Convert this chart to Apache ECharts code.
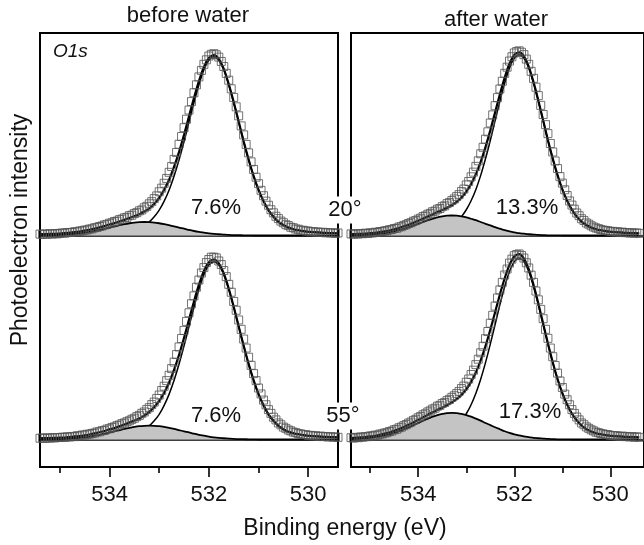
<!DOCTYPE html>
<html><head><meta charset="utf-8">
<script src="https://cdn.jsdelivr.net/npm/echarts@6/dist/echarts.min.js"></script>
<style>html,body{margin:0;padding:0;background:#fff;overflow:hidden}#c{width:644px;height:545px}</style>
</head><body><div id="c"></div>
<script>
// Binding energies (eV) of the measured points (0.05 eV step) and of the fit curves (0.1 eV step)
const energyData = [
535.4,535.35,535.3,535.25,535.2,535.15,535.1,535.05,535,534.95,
534.9,534.85,534.8,534.75,534.7,534.65,534.6,534.55,534.5,534.45,
534.4,534.35,534.3,534.25,534.2,534.15,534.1,534.05,534,533.95,
533.9,533.85,533.8,533.75,533.7,533.65,533.6,533.55,533.5,533.45,
533.4,533.35,533.3,533.25,533.2,533.15,533.1,533.05,533,532.95,
532.9,532.85,532.8,532.75,532.7,532.65,532.6,532.55,532.5,532.45,
532.4,532.35,532.3,532.25,532.2,532.15,532.1,532.05,532,531.95,
531.9,531.85,531.8,531.75,531.7,531.65,531.6,531.55,531.5,531.45,
531.4,531.35,531.3,531.25,531.2,531.15,531.1,531.05,531,530.95,
530.9,530.85,530.8,530.75,530.7,530.65,530.6,530.55,530.5,530.45,
530.4,530.35,530.3,530.25,530.2,530.15,530.1,530.05,530,529.95,
529.9,529.85,529.8,529.75,529.7,529.65,529.6,529.55,529.5,529.45,
529.4];
const energyFit = [
535.4,535.3,535.2,535.1,535,534.9,534.8,534.7,534.6,534.5,
534.4,534.3,534.2,534.1,534,533.9,533.8,533.7,533.6,533.5,
533.4,533.3,533.2,533.1,533,532.9,532.8,532.7,532.6,532.5,
532.4,532.3,532.2,532.1,532,531.9,531.8,531.7,531.6,531.5,
531.4,531.3,531.2,531.1,531,530.9,530.8,530.7,530.6,530.5,
530.4,530.3,530.2,530.1,530,529.9,529.8,529.7,529.6,529.5,
529.4];

// before water, 20 deg
const beforeData20 = [8,6,9,7,10,8,11,9,12,14,
13,16,17,17,21,21,25,26,30,31,
36,37,43,45,50,53,59,62,68,71,
78,80,88,91,98,101,110,113,122,127,
137,142,154,162,176,188,205,220,243,263,
290,317,351,383,423,461,507,550,599,646,
697,744,793,837,881,917,951,976,997,1006,
1010,1004,991,967,939,901,863,815,767,715,
665,609,559,506,459,409,367,324,288,251,
221,191,168,143,126,107,94,80,71,60,
55,46,43,36,35,29,29,25,25,21,
22,19,19,17,18,15,16,14,15,12,14];
const beforeMain20 = [6,7,7,7,8,8,9,10,10,11,12,13,14,15,17,
18,21,24,29,35,44,58,76,104,141,191,253,331,421,522,631,739,838,921,974,993,
974,921,838,739,631,522,421,331,253,191,141,104,76,58,44,35,29,24,21,18,17,15,14,13,12];
const beforeHump20 = [1,1,2,2,3,5,7,9,12,16,
20,25,31,38,44,51,57,63,68,72,
74,75,74,72,68,63,57,51,44,38,
31,25,20,16,12,9,7,5,3,2,
2,1,1,0,0,0,0,0,0,0,
0,0,0,0,0,0,0,0,0,0,0];
const beforeFit20 = [7,8,9,9,11,13,16,19,22,27,
32,38,45,53,61,69,78,87,97,107,
118,133,150,176,209,254,310,382,465,560,
662,764,858,937,986,1002,981,926,841,741,
633,523,422,331,253,191,141,104,76,58,
44,35,29,24,21,18,17,15,14,13,12];

// after water, 20 deg
const afterData20 = [9,7,10,8,11,10,13,11,15,14,
18,17,22,22,26,27,32,33,39,40,
47,49,56,60,67,71,79,83,91,96,
105,109,118,123,132,136,146,150,160,165,
177,183,194,203,216,227,244,258,281,300,
326,352,384,415,454,490,535,576,625,670,
721,766,814,857,901,935,969,993,1014,1022,
1026,1018,1005,980,951,912,873,824,777,723,
672,616,566,511,464,414,372,327,291,254,
222,192,169,146,125,110,93,83,70,63,
54,47,42,38,33,30,28,26,23,23,
20,21,17,19,16,16,14,15,13,14,12];
const afterMain20 = [6,7,7,7,8,8,9,10,10,11,12,13,14,15,17,
18,21,24,29,35,44,58,77,105,143,193,256,334,426,528,638,747,847,931,985,1004,
985,931,847,747,638,528,426,334,256,193,143,105,77,58,44,35,29,24,21,18,17,15,14,13,12];
const afterHump20 = [1,1,2,3,5,7,10,13,18,23,
30,38,46,56,65,75,85,93,101,106,
110,111,110,106,101,93,85,75,65,56,
46,38,30,23,18,13,10,7,5,3,
2,1,1,1,0,0,0,0,0,0,
0,0,0,0,0,0,0,0,0,0,0];
const afterFit20 = [7,8,9,10,13,15,19,23,28,34,
42,51,60,71,82,93,106,117,130,141,
154,169,187,211,244,286,341,409,491,584,
684,785,877,954,1003,1017,995,938,852,750,
640,529,427,335,256,193,143,105,77,58,
44,35,29,24,21,18,17,15,14,13,12];

// before water, 55 deg
const beforeData55 = [7,9,6,9,8,10,9,11,11,13,
12,15,14,17,16,21,20,25,25,29,
30,34,36,42,43,49,51,58,60,67,
70,77,81,88,92,99,104,112,118,127,
134,145,153,167,177,194,208,228,247,272,
296,327,357,394,430,472,514,561,606,656,
704,754,798,846,886,925,955,983,1000,1013,
1013,1009,992,972,939,905,862,818,767,718,
664,612,558,508,457,412,366,327,286,253,
219,193,166,145,124,109,92,82,69,62,
53,48,41,38,33,31,27,27,23,23,
20,21,17,19,16,17,14,16,13,14,12];
const beforeMain55 = [6,7,7,7,8,8,9,10,10,11,12,13,14,15,17,
18,21,24,29,35,43,57,76,104,140,190,252,329,419,520,627,735,834,916,969,988,
969,916,834,735,627,520,419,329,252,190,140,104,76,57,43,35,29,24,21,18,17,15,14,13,12];
const beforeHump55 = [0,1,1,2,2,3,5,7,9,12,
16,21,26,32,39,45,52,59,65,70,
74,76,77,76,74,70,65,59,52,45,
39,32,26,21,16,12,9,7,5,3,
2,2,1,1,0,0,0,0,0,0,
0,0,0,0,0,0,0,0,0,0,0];
const beforeFit55 = [6,8,8,9,10,11,14,17,19,23,
28,34,40,47,56,63,73,83,94,105,
117,133,153,180,214,260,317,388,471,565,
666,767,860,937,985,1000,978,923,839,738,
629,522,420,330,252,190,140,104,76,57,
43,35,29,24,21,18,17,15,14,13,12];

// after water, 55 deg
const afterData55 = [10,8,12,10,14,13,16,16,20,20,
24,24,30,31,36,38,44,47,54,57,
65,69,77,83,91,97,106,112,121,128,
137,143,153,159,169,174,185,190,200,206,
216,223,234,243,255,267,283,297,318,336,
361,385,416,446,482,518,560,600,646,690,
741,786,831,873,914,947,980,1002,1021,1028,
1031,1022,1008,982,953,913,873,825,776,723,
671,612,562,508,460,411,369,325,289,252,
221,193,166,145,125,109,92,82,70,62,
54,48,41,38,33,31,27,27,23,22,
21,20,17,19,16,17,14,16,13,15,12];
const afterMain55 = [6,7,7,7,8,8,9,10,10,11,12,13,14,15,17,
18,21,24,29,35,44,58,78,106,143,193,257,335,427,530,639,749,850,933,988,1007,
988,933,850,749,639,530,427,335,257,193,143,106,78,58,44,35,29,24,21,18,17,15,14,13,12];
const afterHump55 = [2,3,5,7,9,13,17,23,29,37,
46,57,68,80,92,105,116,127,136,142,
147,148,147,142,136,127,116,105,92,80,
68,57,46,37,29,23,17,13,9,7,
5,3,2,1,1,1,0,0,0,0,
0,0,0,0,0,0,0,0,0,0,0];
const afterFit55 = [8,10,12,14,17,21,26,33,39,48,
58,70,82,95,109,123,137,151,165,177,
191,206,225,248,279,320,373,440,519,610,
707,806,896,970,1017,1030,1005,946,859,756,
644,533,429,336,258,194,143,106,78,58,
44,35,29,24,21,18,17,15,14,13,12];

const majorTicks = [530, 532, 534];
const minorTicks = [531, 533, 535];
const columnTitles = ['before water', 'after water'];
const angleLabels = ['20°', '55°'];
const percentLabels = ['7.6%', '13.3%', '7.6%', '17.3%'];
const coreLevel = 'O1s';
const xName = 'Binding energy (eV)';
const yName = 'Photoelectron intensity';

const FONT = '"Liberation Sans", Arial, Helvetica, sans-serif';
const INK = '#111';
const pair = (xs, ys) => ys.map((v, i) => [xs[i], v]);

const panels = [
  {data: beforeData20, main: beforeMain20, hump: beforeHump20, fit: beforeFit20},
  {data: afterData20,  main: afterMain20,  hump: afterHump20,  fit: afterFit20},
  {data: beforeData55, main: beforeMain55, hump: beforeHump55, fit: beforeFit55},
  {data: afterData55,  main: afterMain55,  hump: afterHump55,  fit: afterFit55}
];
// x ranges: left column 535.4 -> 529.4, right column runs past the picture edge
const xRange = [[529.4, 535.4], [529.3, 535.4]];

const grid = [
  {left: 40,  top: 33, width: 298, height: 434, show: true, borderColor: '#000', borderWidth: 2, backgroundColor: 'rgba(0,0,0,0)'},
  {left: 351, top: 33, width: 300, height: 434, show: true, borderColor: '#000', borderWidth: 2, backgroundColor: 'rgba(0,0,0,0)'},
  {left: 40,  top: 46.5,  width: 298, height: 198},
  {left: 351, top: 46.5,  width: 300, height: 198},
  {left: 40,  top: 250.5, width: 298, height: 198},
  {left: 351, top: 250.5, width: 300, height: 198}
];

const xAxis = [];
const yAxis = [];
[0, 1].forEach(g => {
  const r = xRange[g];
  xAxis.push({gridIndex: g, type: 'value', position: 'bottom', min: r[0], max: r[1], inverse: true,
    axisLine: {show: false}, splitLine: {show: false},
    axisTick: {show: true, customValues: majorTicks, length: 10, lineStyle: {color: '#000', width: 1.6}},
    axisLabel: {show: true, customValues: majorTicks, fontSize: 22, fontFamily: FONT, color: INK, margin: 17}});
  xAxis.push({gridIndex: g, type: 'value', position: 'bottom', min: r[0], max: r[1], inverse: true,
    axisLine: {show: false}, splitLine: {show: false},
    axisTick: {show: true, customValues: minorTicks, length: 6, lineStyle: {color: '#000', width: 1.6}},
    axisLabel: {show: false}});
  yAxis.push({gridIndex: g, type: 'value', show: false});
});
[2, 3, 4, 5].forEach((g, k) => {
  const r = xRange[k % 2];
  xAxis.push({gridIndex: g, type: 'value', min: r[0], max: r[1], inverse: true,
    axisLine: {show: true, onZero: true, lineStyle: {color: '#000', width: 1.6}},
    axisTick: {show: false}, axisLabel: {show: false}, splitLine: {show: false}});
  yAxis.push({gridIndex: g, type: 'value', min: -50, max: 1050, show: false});
});

const series = [];
panels.forEach((p, k) => {
  const ax = {xAxisIndex: 4 + k, yAxisIndex: 2 + k};
  series.push(Object.assign({type: 'line', data: pair(energyFit, p.main), smooth: 0.25, symbol: 'none',
    lineStyle: {color: '#000', width: 1.5}, z: 2, silent: true}, ax));
  series.push(Object.assign({type: 'line', data: pair(energyFit, p.hump), smooth: 0.25, symbol: 'none',
    lineStyle: {color: '#000', width: 1.8}, areaStyle: {color: '#c4c4c4', opacity: 1}, z: 3, silent: true}, ax));
  series.push(Object.assign({type: 'line', data: pair(energyFit, p.fit), smooth: 0.25, symbol: 'none',
    lineStyle: {color: '#000', width: 2.2}, z: 4, silent: true}, ax));
  series.push(Object.assign({type: 'scatter', data: pair(energyData, p.data), symbol: 'rect', symbolSize: 8,
    itemStyle: {color: 'rgba(0,0,0,0)', borderColor: '#505050', borderWidth: 1}, z: 5, silent: true}, ax));
});

function txt(text, x, y, size, extra) {
  return {type: 'text', x: x, y: y, z: 100, silent: true,
    style: Object.assign({text: text, font: size + 'px ' + FONT, fill: INK, align: 'center', verticalAlign: 'middle'}, extra || {})};
}
const yLabel = txt(yName, 21, 230, 23);
yLabel.rotation = Math.PI / 2;
const graphic = [
  txt(columnTitles[0], 188, 16, 22),
  txt(columnTitles[1], 496, 20, 22),
  txt(coreLevel, 53, 52, 19, {align: 'left', font: 'italic 19px ' + FONT}),
  txt(percentLabels[0], 216, 208, 22),
  txt(percentLabels[1], 527, 208, 22),
  txt(percentLabels[2], 216, 416, 22),
  txt(percentLabels[3], 530, 412, 22),
  txt(angleLabels[0], 345, 210, 22, {backgroundColor: '#fff', padding: [3, 1, 2, 1]}),
  txt(angleLabels[1], 343, 416, 22, {backgroundColor: '#fff', padding: [3, 1, 2, 1]}),
  txt(xName, 345, 529, 23),
  yLabel
];

const chart = echarts.init(document.getElementById('c'), null, {renderer: 'canvas'});
chart.setOption({
  animation: false,
  backgroundColor: '#fff',
  grid: grid, xAxis: xAxis, yAxis: yAxis, series: series, graphic: graphic
});
</script></body></html>
